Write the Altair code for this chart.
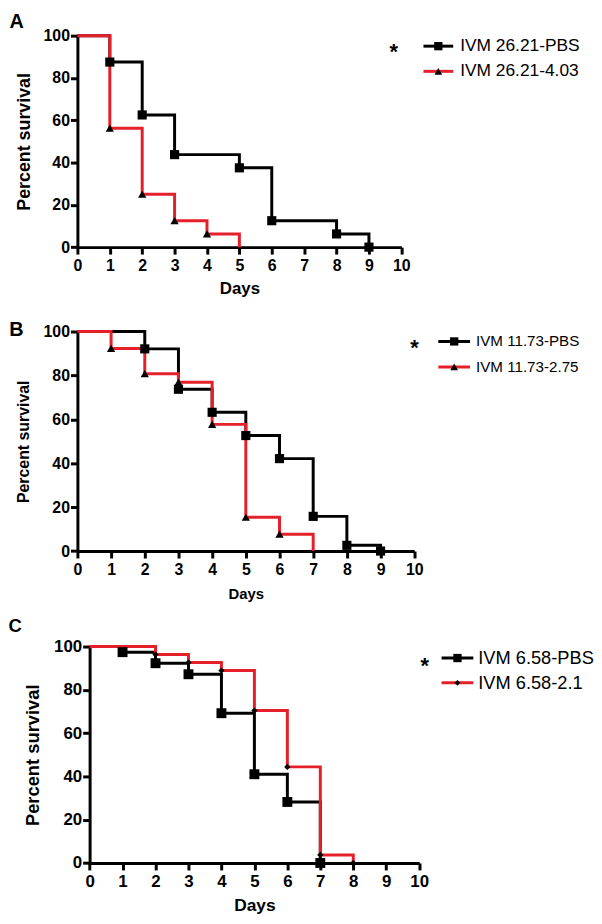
import altair as alt
import pandas as pd

# ---------------- data ----------------
X_TICKS = [0, 1, 2, 3, 4, 5, 6, 7, 8, 9, 10]
Y_TICKS = [0, 20, 40, 60, 80, 100]

# Panel A
A_days_pbs = [0, 1, 2, 3, 5, 6, 8, 9]
A_surv_pbs = [100, 87.5, 62.5, 43.75, 37.5, 12.5, 6.25, 0]
A_mark_pbs = [0, 1, 1, 1, 1, 1, 1, 1]
A_days_trt = [0, 1, 2, 3, 4, 5]
A_surv_trt = [100, 56.25, 25, 12.5, 6.25, 0]
A_mark_trt = [0, 1, 1, 1, 1, 0]
A_labels = ["IVM 26.21-PBS", "IVM 26.21-4.03"]

# Panel B
B_days_pbs = [0, 2, 3, 4, 5, 6, 7, 8, 9]
B_surv_pbs = [100, 92.1, 73.7, 63.2, 52.6, 42.1, 15.8, 2.6, 0]
B_mark_pbs = [0, 1, 1, 1, 1, 1, 1, 1, 1]
B_days_trt = [0, 1, 2, 3, 4, 5, 6, 7]
B_surv_trt = [100, 92.3, 80.8, 76.9, 57.7, 15.4, 7.7, 0]
B_mark_trt = [0, 1, 1, 1, 1, 1, 1, 0]
B_labels = ["IVM 11.73-PBS", "IVM 11.73-2.75"]

# Panel C
C_days_pbs = [0, 1, 2, 3, 4, 5, 6, 7]
C_surv_pbs = [100, 97.4, 92.3, 87.2, 69.2, 41.0, 28.2, 0]
C_mark_pbs = [0, 1, 1, 1, 1, 1, 1, 1]
C_days_trt = [0, 2, 3, 4, 5, 6, 7, 8]
C_surv_trt = [100, 96.3, 92.6, 88.9, 70.4, 44.4, 3.7, 0]
C_mark_trt = [0, 1, 1, 1, 1, 1, 1, 1]
C_labels = ["IVM 6.58-PBS", "IVM 6.58-2.1"]

RED = "#e5202a"
FONT = "Liberation Sans"


def panel(letter, dp, sp, mp, dt, st, mt, labels, trt_shape, c):
    sh = c.get("shift", 0)
    axx = alt.Axis(values=X_TICKS, title="Days", labelFont=FONT, labelFontWeight="bold",
                   labelFontSize=c["tfs"], labelColor="black", labelPadding=4,
                   labelFlush=False, labelOverlap=False,
                   titleFont=FONT, titleFontWeight="bold", titleFontSize=c["xfs"],
                   titleColor="black", titlePadding=c["xpad"],
                   domainColor="black", domainWidth=3, tickColor="black",
                   tickWidth=3, tickSize=7, grid=False)
    axy = alt.Axis(values=Y_TICKS, title="Percent survival", format="d", labelFont=FONT,
                   labelFontWeight="bold", labelFontSize=c["tfs"], labelColor="black",
                   labelPadding=1, labelFlush=False, labelOverlap=False,
                   titleFont=FONT, titleFontWeight="bold", titleFontSize=c["yfs"],
                   titleColor="black", titlePadding=c["ypad"],
                   domainColor="black", domainWidth=3, tickColor="black",
                   tickWidth=3, tickSize=7, grid=False, offset=-sh)
    X = alt.X("day:Q", scale=alt.Scale(domain=[0, 10], nice=False, zero=False,
                                       range=[sh, sh + c["w"]]), axis=axx)
    Y = alt.Y("surv:Q", scale=alt.Scale(domain=[0, 100], nice=False), axis=axy)

    dfp = pd.DataFrame({"day": dp, "surv": sp, "mark": mp})
    dft = pd.DataFrame({"day": dt, "surv": st, "mark": mt})

    line_p = alt.Chart(dfp).mark_line(interpolate="step-after", color="black",
                                      strokeWidth=3).encode(x=X, y=Y)
    line_t = alt.Chart(dft).mark_line(interpolate="step-after", color=RED,
                                      strokeWidth=3).encode(x=X, y=Y)
    pts_p = alt.Chart(dfp).transform_filter("datum.mark == 1").mark_point(
        filled=True, shape="square", size=c["sq"], color="black", opacity=1).encode(x=X, y=Y)
    pts_t = alt.Chart(dft).transform_filter("datum.mark == 1").mark_point(
        filled=True, shape=trt_shape, size=c["ts"], color="black", opacity=1).encode(x=X, y=Y)

    layers = [line_p, line_t, pts_p, pts_t]

    # legend (manual)
    shapes = ["square", trt_shape]
    colors = ["black", RED]
    sizes = [c["lsq"], c["lts"]]
    for i, lab in enumerate(labels):
        yy = c["ly"][i]
        d = pd.DataFrame({"label": [lab]})
        b = alt.Chart(d)
        layers.append(b.mark_rule(color=colors[i], strokeWidth=3).encode(
            x=alt.value(sh + c["lx0"]), x2=alt.value(sh + c["lx1"]), y=alt.value(yy)))
        layers.append(b.mark_point(filled=True, shape=shapes[i], size=sizes[i],
                                   color="black", opacity=1).encode(
            x=alt.value(sh + (c["lx0"] + c["lx1"]) / 2), y=alt.value(yy)))
        layers.append(b.mark_text(align="left", baseline="middle", font=FONT,
                                  fontSize=c["lfs"], color="black").encode(
            x=alt.value(sh + c["tx"]), y=alt.value(yy), text="label:N"))

    # significance star
    ds = pd.DataFrame({"t": ["*"]})
    layers.append(alt.Chart(ds).mark_text(align="center", baseline="alphabetic", font=FONT,
                                          fontWeight="bold", fontSize=22, color="black").encode(
        x=alt.value(sh + c["sx"]), y=alt.value(c["sy"]), text="t:N"))
    # panel letter
    dl = pd.DataFrame({"t": [letter]})
    layers.append(alt.Chart(dl).mark_text(align="center", baseline="middle", font=FONT,
                                          fontWeight="bold", fontSize=c["lefs"], color="black").encode(
        x=alt.value(sh + c["lex"]), y=alt.value(c["ley"]), text="t:N"))

    return alt.layer(*layers).properties(width=sh + c["w"], height=c["h"])


cfgA = dict(w=326.7, h=213.3, tfs=16, xfs=17, yfs=18, xpad=7, ypad=10, sq=85, ts=70,
            lsq=70, lts=60, lx0=349, lx1=379, tx=386, ly=[10.6, 36.0], lfs=17.5,
            sx=319, sy=23.8, lex=-61.3, ley=-13.5, lefs=20)
cfgB = dict(w=339.7, h=221.4, tfs=16, xfs=15, yfs=16, xpad=9, ypad=11.5, sq=85, ts=70,
            lsq=70, lts=60, lx0=364, lx1=396, tx=402, ly=[10.0, 35.7], lfs=15.3,
            sx=340, sy=23.8, lex=-61.5, ley=-1.1, lefs=20)
cfgC = dict(w=332.4, h=218.3, tfs=17, xfs=17.5, yfs=18.5, xpad=7, ypad=11, sq=100, ts=40,
            lsq=70, lts=35, lx0=355, lx1=387, tx=392, ly=[11.6, 36.6], lfs=18.4,
            sx=338, sy=27.1, lex=-75, ley=-20.6, lefs=18.6, shift=12.3)

pA = panel("A", A_days_pbs, A_surv_pbs, A_mark_pbs, A_days_trt, A_surv_trt, A_mark_trt,
           A_labels, "triangle-up", cfgA)
pB = panel("B", B_days_pbs, B_surv_pbs, B_mark_pbs, B_days_trt, B_surv_trt, B_mark_trt,
           B_labels, "triangle-up", cfgB)
pC = panel("C", C_days_pbs, C_surv_pbs, C_mark_pbs, C_days_trt, C_surv_trt, C_mark_trt,
           C_labels, "diamond", cfgC)

top = alt.vconcat(pA, pB, spacing=22.4)
chart = alt.vconcat(top, pC, spacing=15.1).properties(
    padding=0, background="white"
).configure_view(stroke=None)

chart.save("out.html", embed_options={"renderer": "svg", "actions": False})
